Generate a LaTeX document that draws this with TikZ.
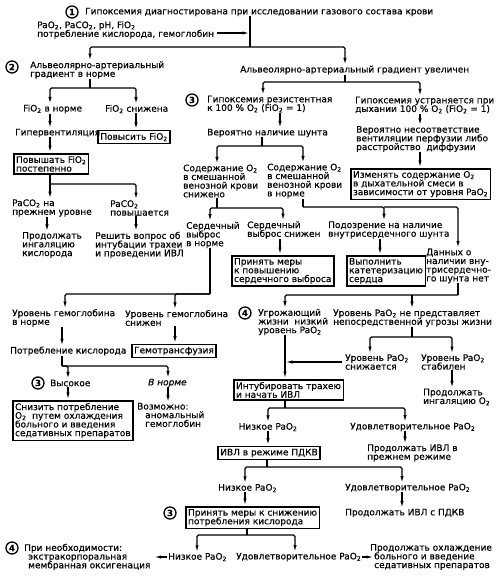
\documentclass[tikz,border=0pt]{standalone}
\usepackage{fontspec}
\setmainfont{DejaVu Sans}[FakeBold=0.4]
\usetikzlibrary{arrows.meta}
\newcommand\subtwo{\textsubscript{2}}
\begin{document}
\lineskiplimit=-5pt\relax
\begin{tikzpicture}[x=1pt,y=-1pt,
  font=\fontsize{9}{8.7}\selectfont,
  tx/.style={inner sep=0pt, align=left, anchor=west},
  bx/.style={draw, line width=1.5pt, inner sep=2.3pt, align=left},
  num/.style={circle, draw, line width=1.3pt, inner sep=0pt, minimum size=12pt, font=\fontsize{8.5}{8.5}\selectfont\bfseries},
  ln/.style={line width=1.1pt, rounded corners=1.5pt},
  arr/.style={ln, -{Latex[length=6.5pt,width=3.4pt]}, shorten >=1pt}]
\path[fill=white] (0,0) rectangle (497,578);
\useasboundingbox (0,0) rectangle (497,578);
% top
\node[num] (c1) at (72,12) {1};
\node[tx] (t1) at (85,12) {Гипоксемия диагностирована при исследовании газового состава крови};
\node[tx] (tin) at (37,30) {PaO\subtwo, PaCO\subtwo, pH, FiO\subtwo\\потребление кислорода, гемоглобин};
\coordinate (j1) at (250,47);
\draw[ln] (t1.south -| j1) -- (j1);
\draw[arr] ([xshift=3pt,yshift=-3pt]tin.east) -- ([yshift=-3pt]tin.east -| j1);
\node[num] (c2) at (12,67) {2};
\node[tx] (n2a) at (30,70) {Альвеолярно-артериальный\\градиент в норме};
\node[tx] (n2b) at (240,70) {Альвеолярно-артериальный градиент увеличен};
\draw[arr] (j1) -| (n2a.north -| 90,0);
\draw[arr] (j1) -| (n2b.north -| 345,0);
% left branch
\coordinate (j2) at (90,88);
\draw[ln] (n2a.south -| j2) -- (j2);
\node[tx] (n3a) at (23,109) {FiO\subtwo\ в норме};
\node[tx] (n3b) at (105,109) {FiO\subtwo\ снижена};
\draw[arr] (j2) -| (n3a.north -| 50,0);
\draw[arr] (j2) -| (n3b.north -| 136,0);
\node[tx] (n4a) at (15,133) {Гипервентиляция};
\node[bx] (b1) at (134,137) {Повысить FiO\subtwo};
\draw[arr] (n3a.south -| 50,0) -- (n4a.north -| 50,0);
\draw[arr] (n3b.south -| 136,0) -- (b1.north -| 136,0);
\node[bx, anchor=north west] (b2) at (13,153) {Повышать FiO\subtwo\\постепенно};
\draw[arr] (n4a.south -| 50,0) -- (b2.north -| 50,0);
\coordinate (j3) at (50,184);
\draw[ln] (b2.south -| j3) -- (j3);
\node[tx] (n5a) at (12,208) {PaCO\subtwo\ на\\прежнем уровне};
\node[tx] (n5b) at (110,208) {PaCO\subtwo\\повышается};
\draw[arr] (j3) -- (n5a.north -| j3);
\draw[arr] (j3) -| (n5b.north -| 136,0);
\node[tx] (n6a) at (22,245) {Продолжать\\ингаляцию\\кислорода};
\node[tx] (n6b) at (95,245) {Решить вопрос об\\интубации трахеи\\и проведении ИВЛ};
\draw[arr] (n5a.south -| 47,0) -- (n6a.north -| 47,0);
\draw[arr] (n5b.south -| 136,0) -- (n6b.north -| 136,0);
% right branch
\coordinate (j4) at (345,82);
\draw[ln] (n2b.south -| j4) -- (j4);
\node[num] (c3a) at (192,100) {3};
\node[tx] (n7a) at (207,104) {Гипоксемия резистентная\\к 100 \% O\subtwo\ (FiO\subtwo\ = 1)};
\node[tx] (n7b) at (355,105) {Гипоксемия устраняется при\\дыхании 100 \% O\subtwo\ (FiO\subtwo\ = 1)};
\draw[arr] (j4) -| (n7a.north -| 263,0);
\draw[arr] (j4) -| (n7b.north -| 420,0);
\node[tx] (n8a) at (207,133) {Вероятно наличие шунта};
\node[tx] (n8b) at (356,139) {Вероятно несоответствие\\вентиляции перфузии либо\\расстройство\ \ диффузии};
\draw[arr] (n7a.south -| 280,0) -- (n8a.north -| 280,0);
\draw[arr] (n7b.south -| 420,0) -- (n8b.north -| 420,0);
\node[bx, anchor=north west] (b3) at (350,168) {Изменять содержание O\subtwo\\в дыхательной смеси в\\зависимости от уровня\ PaO\subtwo};
\draw[arr] (n8b.south -| 420,0) -- (b3.north -| 420,0);
\coordinate (j5) at (262,146);
\draw[ln] (n8a.south -| j5) -- (j5);
\node[tx] (n9a) at (183,181) {Содержание O\subtwo\\в смешанной\\венозной крови\\снижено};
\node[tx] (n9b) at (267,181) {Содержание O\subtwo\\в смешанной\\венозной крови\\в норме};
\draw[arr] (j5) -| (n9a.north -| 217,0);
\draw[arr] (j5) -| (n9b.north -| 303,0);
\coordinate (j6) at (217,208);
\draw[ln] (n9a.south -| j6) -- (j6);
\node[tx] (n10a) at (186,235) {Сердечный\\выброс\\в норме};
\node[tx] (n10b) at (247,230) {Сердечный\\выброс снижен};
\draw[arr] (j6) -| (n10a.north -| 210,0);
\draw[arr] (j6) -| (n10b.north -| 283,0);
\node[tx] (n10c) at (328,230) {Подозрение на наличие\\внутрисердечного шунта};
\node[tx] (n10d) at (426,266) {Данных о\\наличии вну-\\трисердечно-\\го шунта нет};
\coordinate (j7) at (303,207);
\coordinate (j7b) at (384,207);
\draw[ln] (n9b.south -| j7) -- (j7);
\draw[arr] (j7) -- (j7b) -- (n10c.north -| j7b);
\draw[arr] (j7b) -| (n10d.north -| 458,0);
\node[bx, anchor=north west] (b4) at (231,255) {Принять меры\\к повышению\\сердечного выброса};
\node[bx, anchor=north west] (b5) at (346,255) {Выполнить\\катетеризацию\\сердца};
\draw[arr] (n10b.south -| 280,0) -- (b4.north -| 280,0);
\draw[arr] (n10c.south -| 380,0) -- (b5.north -| 380,0);
\coordinate (j8) at (458,295);
\coordinate (j8b) at (412,295);
\draw[ln] (n10d.south -| j8) -- (j8);
\node[num] (c4a) at (245,313) {4};
\node[tx] (n11a) at (258,322) {Угрожающий\\жизни\ \ низкий\\уровень PaO\subtwo};
\node[tx] (n11b) at (333,318) {Уровень PaO\subtwo\ не представляет\\непосредственной угрозы жизни};
\draw[arr] (j8) -| (n11a.north -| 285,0);
\draw[arr] (j8b) -- (n11b.north -| j8b);
\coordinate (j9) at (412,337);
\draw[ln] (n11b.south -| j9) -- (j9);
\node[tx] (n12a) at (345,362) {Уровень PaO\subtwo\\снижается};
\node[tx] (n12b) at (421,362) {Уровень PaO\subtwo\\стабилен};
\draw[arr] (j9) -| (n12a.north -| 370,0);
\draw[arr] (j9) -| (n12b.north -| 452,0);
\node[bx, anchor=north west] (b6) at (233,379) {Интубировать трахею\\и начать ИВЛ};
\draw[arr] (n11a.south -| 285,0) -- (b6.north -| 285,0);
\draw[arr] ([xshift=-3pt]n12a.west) -- (n12a.west -| 285,0);
\node[tx] (n13) at (423,397) {Продолжать\\ингаляцию O\subtwo};
\draw[arr] (n12b.south -| 452,0) -- (n13.north -| 452,0);
\coordinate (j10) at (285,408);
\draw[ln] (b6.south -| j10) -- (j10);
\node[tx, anchor=center] (n14a) at (268,427) {Низкое PaO\subtwo};
\node[tx] (n14b) at (350,427) {Удовлетворительное PaO\subtwo};
\draw[arr] (j10) -| (n14a.north -| 268,0);
\draw[arr] (j10) -| (n14b.north -| 405,0);
\node[bx] (b7) at (269,453) {ИВЛ в режиме ПДКВ};
\node[tx] (n15) at (367,453) {Продолжать ИВЛ в\\прежнем режиме};
\draw[arr] (n14a.south -| 268,0) -- (b7.north -| 268,0);
\draw[arr] (n14b.south -| 405,0) -- (n15.north -| 405,0);
\coordinate (j11) at (267,467);
\draw[ln] (b7.south -| j11) -- (j11);
\node[tx] (n16a) at (218,488) {Низкое PaO\subtwo};
\node[tx] (n16b) at (345,488) {Удовлетворительное PaO\subtwo};
\draw[arr] (j11) -| (n16a.north -| 245,0);
\draw[arr] (j11) -| (n16b.north -| 402,0);
\node[num] (c3b) at (170,513) {3};
\node[bx, anchor=north west] (b8) at (185,506) {Принять меры к снижению\\потребления кислорода};
\node[tx] (n17) at (345,513) {Продолжать ИВЛ с ПДКВ};
\draw[arr] (n16a.south -| 245,0) -- (b8.north -| 245,0);
\draw[arr] (n16b.south -| 402,0) -- (n17.north -| 402,0);
\coordinate (j12) at (247,535);
\draw[ln] (b8.south -| j12) -- (j12);
\node[tx] (n18a) at (168,557) {Низкое PaO\subtwo};
\node[tx] (n18b) at (236,557) {Удовлетворительное PaO\subtwo};
\draw[arr] (j12) -| (n18a.north -| 197,0);
\draw[arr] (j12) -| (n18b.north -| 295,0);
\node[num] (c4b) at (12,548) {4};
\node[tx] (n19) at (24,557) {При необходимости:\\\hspace*{4pt}экстракорпоральная\\\hspace*{4pt}мембранная оксигенация};
\node[tx] (n20) at (370,557) {Продолжать охлаждение\\\hspace*{4pt}больного и введение\\\hspace*{4pt}седативных препаратов};
\draw[arr] ([xshift=-1pt]n18a.west) -- ([xshift=3pt]n19.east |- n18a.west);
\draw[arr] ([xshift=1pt]n18b.east) -- ([xshift=4pt]n20.west |- n18b.east);
% hemoglobin
\coordinate (j13) at (210,294);
\draw[ln] (n10a.south -| j13) -- (j13);
\node[tx] (n21a) at (12,318) {Уровень гемоглобина\\в норме};
\node[tx] (n21b) at (125,318) {Уровень гемоглобина\\снижен};
\draw[arr] (j13) -| (n21a.north -| 65,0);
\draw[arr] (j13) -| (n21b.north -| 175,0);
\node[tx] (n22) at (10,351) {Потребление кислорода};
\node[bx] (b9) at (174,351) {Гемотрансфузия};
\draw[arr] (n21a.south -| 62,0) -- (n22.north -| 62,0);
\draw[arr] (n21b.south -| 175,0) -- (b9.north -| 175,0);
\coordinate (j14) at (62,366);
\draw[ln] (n22.south -| j14) -- (j14);
\node[num] (c3c) at (38,383) {3};
\node[tx] (n23a) at (50,383) {Высокое};
\node[tx] (n23b) at (148,383) {\itshape В норме};
\draw[arr] (j14) -| (n23a.north -| 68,0);
\draw[arr] (j14) -| (n23b.north -| 168,0);
\node[bx, anchor=north west] (b10) at (12,400) {Снизить потребление\\O\subtwo\ \ путем охлаждения\\больного и введения\\седативных препаратов};
\node[tx] (n24) at (137,415) {Возможно:\\\hspace*{8pt}аномальный\\\hspace*{8pt}гемоглобин};
\draw[arr] (n23a.south -| 68,0) -- (b10.north -| 68,0);
\draw[arr] (n23b.south -| 168,0) -- (n24.north -| 168,0);
\end{tikzpicture}
\end{document}
